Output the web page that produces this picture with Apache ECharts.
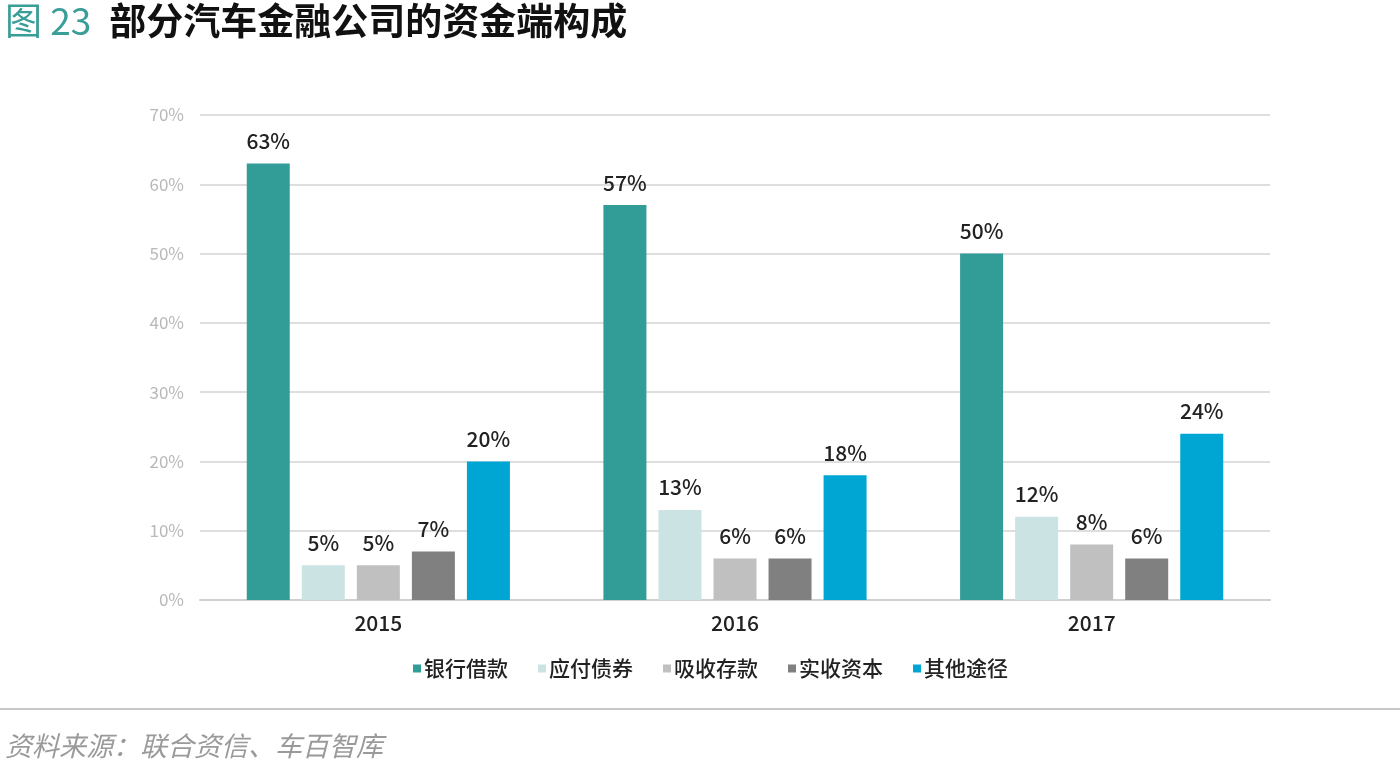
<!DOCTYPE html>
<html><head><meta charset="utf-8">
<script src="https://cdn.jsdelivr.net/npm/echarts@6/dist/echarts.min.js"></script>
<style>html,body{margin:0;padding:0;background:#fff}#c{width:1400px;height:775px}</style>
</head><body><div id="c"></div>
<script>
const categories = ['2015', '2016', '2017'];
const seriesNames = ['银行借款', '应付债券', '吸收存款', '实收资本', '其他途径'];
const bankLoans = [63, 57, 50];
const bondsPayable = [5, 13, 12];
const deposits = [5, 6, 8];
const paidInCapital = [7, 6, 6];
const otherSources = [20, 18, 24];
const yTicks = [0, 10, 20, 30, 40, 50, 60, 70];
const colors = ['#329c97', '#cce3e3', '#c0c0c0', '#808080', '#00a6d3'];
const values = [bankLoans, bondsPayable, deposits, paidInCapital, otherSources];

const font = '"Noto Sans CJK SC", "Noto Sans", sans-serif';
const chart = echarts.init(document.getElementById('c'));
chart.setOption({
  animation: false,
  textStyle: { fontFamily: font },
  title: [{
    text: '{a|图 23}{s|}{b|部分汽车金融公司的资金端构成}',
    left: 0, top: -3,
    textStyle: { rich: {
      a: { color: '#3a9e98', fontSize: 37, fontWeight: 'normal', fontFamily: font },
      s: { width: 18 },
      b: { color: '#111', fontSize: 37, fontWeight: 'bold', fontFamily: font }
    } }
  }, {
    text: '资料来源：联合资信、车百智库',
    left: 0, top: 727,
    textStyle: { color: '#9a9a9a', fontSize: 27, fontStyle: 'italic', fontWeight: 'normal', fontFamily: font }
  }],
  graphic: [{
    type: 'line', shape: { x1: 0, y1: 709, x2: 1400, y2: 709 },
    style: { stroke: '#c8c8c8', lineWidth: 2 }
  }],
  legend: {
    data: seriesNames, top: 653, left: 408,
    icon: 'rect', itemWidth: 8, itemHeight: 8, itemGap: 30, itemStyle: { borderWidth: 0 },
    textStyle: { fontSize: 21, fontWeight: 500, color: '#222', fontFamily: font, padding: [0, 0, 0, -2] }
  },
  grid: { left: 200, right: 130, top: 115, bottom: 175, containLabel: false },
  xAxis: {
    type: 'category', data: categories,
    axisLine: { lineStyle: { color: '#cfcfcf', width: 2 } },
    axisTick: { show: false },
    axisLabel: { fontSize: 21, fontWeight: 500, color: '#222', margin: 13 }
  },
  yAxis: {
    type: 'value', min: yTicks[0], max: yTicks[yTicks.length - 1], interval: 10,
    axisLine: { show: false }, axisTick: { show: false },
    axisLabel: { formatter: '{value}%', fontSize: 17, color: '#b8b8b8', margin: 16 },
    splitLine: { lineStyle: { color: '#dedede', width: 2 } }
  },
  series: seriesNames.map((n, i) => ({
    name: n, type: 'bar', data: values[i], barWidth: 43, barGap: '28%',
    itemStyle: { color: colors[i] },
    label: { show: true, position: 'top', formatter: '{c}%', fontSize: 21, fontWeight: 500, color: '#222', distance: 12 }
  }))
});
</script></body></html>
